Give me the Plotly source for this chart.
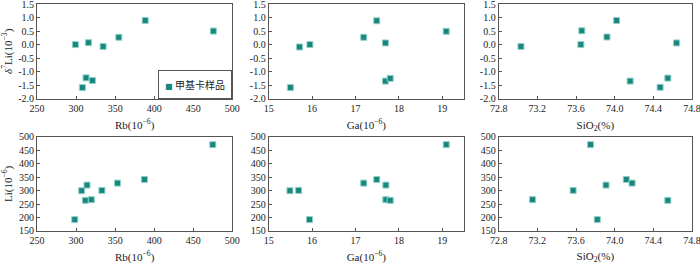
import plotly.graph_objects as go

# ---- data ----
# top row: delta7Li vs Rb, Ga, SiO2
rb_top = [299.1, 315.8, 334.6, 354.7, 388.5, 475.7, 312.8, 320.9, 308.1]
d7li_rb = [0.0, 0.07, -0.07, 0.27, 0.89, 0.50, -1.23, -1.33, -1.59]

ga_top = [15.50, 15.71, 15.95, 17.19, 17.49, 17.69, 17.69, 17.80, 19.09]
d7li_ga = [-1.59, -0.09, 0.0, 0.27, 0.88, 0.06, -1.35, -1.25, 0.49]

sio2_top = [73.03, 73.65, 73.66, 73.92, 74.02, 74.16, 74.47, 74.55, 74.64]
d7li_si = [-0.07, 0.0, 0.51, 0.28, 0.89, -1.35, -1.58, -1.24, 0.06]

# bottom row: Li vs Rb, Ga, SiO2
rb_bot = [298.3, 307.2, 314.0, 311.9, 319.5, 333.1, 353.1, 387.5, 475.0]
li_rb = [192.5, 299.6, 320.6, 263.9, 266.4, 300.8, 328.0, 341.5, 470.8]

ga_bot = [15.49, 15.69, 15.94, 17.19, 17.49, 17.70, 17.70, 17.80, 19.09]
li_ga = [299.6, 300.9, 192.5, 328.0, 341.5, 320.6, 266.4, 263.9, 470.8]

sio2_bot = [73.15, 73.57, 73.75, 73.82, 73.91, 74.12, 74.18, 74.55]
li_si = [266.4, 300.8, 470.8, 192.5, 320.6, 341.5, 328.0, 263.9]

series_name = "甲基卡样品"

d_ticks = [-2.0, -1.5, -1.0, -0.5, 0.0, 0.5, 1.0, 1.5]
d_ticktext = ["-2.0", "-1.5", "-1.0", "-0.5", "0.0", "0.5", "1.0", "1.5"]
li_ticks = [150, 200, 250, 300, 350, 400, 450, 500]
rb_ticks = [250, 300, 350, 400, 450, 500]
ga_ticks = [15, 16, 17, 18, 19]
si_ticks = [72.8, 73.2, 73.6, 74.0, 74.4, 74.8]
si_ticktext = ["72.8", "73.2", "73.6", "74.0", "74.4", "74.8"]

# ---- styling ----
FONT = "Liberation Serif, Times New Roman, Noto Sans CJK SC, serif"
MCOL = "#17877E"
MLINE = "#93D0C7"
AX = "#555555"
TXT = "#222222"

fig = go.Figure()

panels = [
    (rb_top, d7li_rb, "x", "y"),
    (ga_top, d7li_ga, "x2", "y2"),
    (sio2_top, d7li_si, "x3", "y3"),
    (rb_bot, li_rb, "x4", "y4"),
    (ga_bot, li_ga, "x5", "y5"),
    (sio2_bot, li_si, "x6", "y6"),
]
for xs, ys, xa, ya in panels:
    fig.add_trace(go.Scatter(
        x=xs, y=ys, xaxis=xa, yaxis=ya, mode="markers", name=series_name,
        showlegend=False, cliponaxis=False,
        marker=dict(symbol="square", size=6, color=MCOL,
                    line=dict(color=MLINE, width=1)),
    ))

xdom = [[0.0, 0.2982], [0.3537, 0.6519], [0.7049, 1.0]]
ydom_top = [0.583, 1.0]
ydom_bot = [0.0, 0.415]

common = dict(showline=True, linecolor=AX, linewidth=1, mirror=True,
              ticks="inside", ticklen=3, tickcolor=AX, showgrid=False,
              zeroline=False, automargin=False, ticklabeloverflow="allow",
              tickfont=dict(size=10, color=TXT, family=FONT))

xt = dict(font=dict(size=11, color=TXT, family=FONT), standoff=8)
yt = dict(font=dict(size=11, color=TXT, family=FONT), standoff=6)

def xaxis(rng, dom, anchor, title, tv, tt=None):
    d = dict(common, range=rng, domain=dom, anchor=anchor, tickvals=tv,
             title=dict(xt, text=title))
    if tt:
        d["ticktext"] = tt
    return d

def yaxis(rng, dom, anchor, title, tv, tt=None):
    d = dict(common, range=rng, domain=dom, anchor=anchor, tickvals=tv)
    if tt:
        d["ticktext"] = tt
    if title:
        d["title"] = dict(yt, text=title)
    return d

rb_title = "Rb(10<sup>−6</sup>)"
ga_title = "Ga(10<sup>−6</sup>)"
si_title = "SiO<sub>2</sub>(%)"
d_title = "<i>δ</i><sup>7</sup>Li(10<sup>−3</sup>)"
li_title = "Li(10<sup>−6</sup>)"

fig.update_layout(
    width=700, height=264,
    margin=dict(l=37, r=8, t=4, b=33, autoexpand=False),
    paper_bgcolor="white", plot_bgcolor="white",
    font=dict(family=FONT, color=TXT, size=10),
    showlegend=False,
    xaxis=xaxis([250, 500], xdom[0], "y", rb_title, rb_ticks),
    xaxis2=xaxis([15, 19.5], xdom[1], "y2", ga_title, ga_ticks),
    xaxis3=xaxis([72.8, 74.8], xdom[2], "y3", si_title, si_ticks, si_ticktext),
    xaxis4=xaxis([250, 500], xdom[0], "y4", rb_title, rb_ticks),
    xaxis5=xaxis([15, 19.5], xdom[1], "y5", ga_title, ga_ticks),
    xaxis6=xaxis([72.8, 74.8], xdom[2], "y6", si_title, si_ticks, si_ticktext),
    yaxis=yaxis([-2.0, 1.5], ydom_top, "x", d_title, d_ticks, d_ticktext),
    yaxis2=yaxis([-2.0, 1.5], ydom_top, "x2", None, d_ticks, d_ticktext),
    yaxis3=yaxis([-2.0, 1.5], ydom_top, "x3", None, d_ticks, d_ticktext),
    yaxis4=yaxis([150, 500], ydom_bot, "x4", li_title, li_ticks),
    yaxis5=yaxis([150, 500], ydom_bot, "x5", None, li_ticks),
    yaxis6=yaxis([150, 500], ydom_bot, "x6", None, li_ticks),
)

# legend box (key + label) in the lower-right corner of the first panel
fig.add_annotation(
    xref="x domain", yref="y domain", x=1, y=0,
    xanchor="right", yanchor="bottom",
    width=72, height=27, borderpad=0, borderwidth=1,
    bordercolor=AX, bgcolor="white", align="center", showarrow=False,
    text=(f'<span style="font-family:DejaVu Sans;font-size:8px;color:{MCOL}">■</span>'
          f'&nbsp;{series_name}'),
    font=dict(size=10, color=TXT, family="Noto Sans CJK SC, Liberation Serif"),
)

fig.write_html(
    "out.html",
    config={"displayModeBar": False},
    post_script="document.body.style.margin='0';document.body.style.padding='0';",
)
